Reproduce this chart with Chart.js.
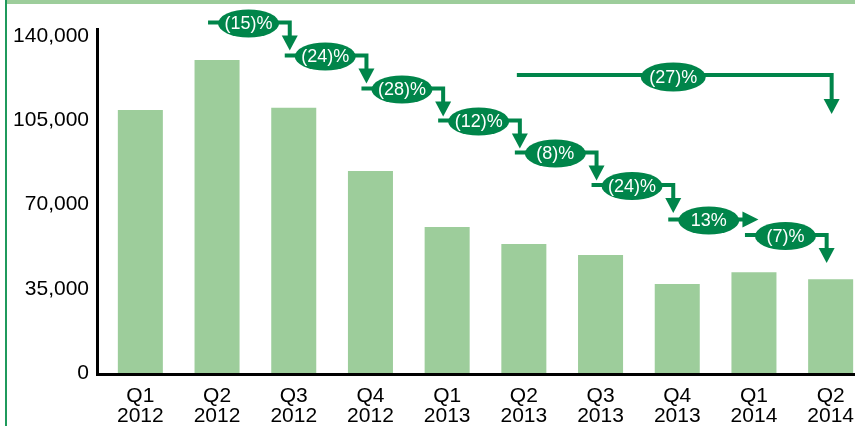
<!DOCTYPE html>
<html><head><meta charset="utf-8">
<script src="https://cdn.jsdelivr.net/npm/chart.js@4/dist/chart.umd.min.js"></script>
<style>
html,body{margin:0;padding:0;background:#fff;overflow:hidden;width:855px;height:426px;}
#wrap{position:relative;width:855px;height:426px;overflow:hidden;}
#frameTop{position:absolute;left:7px;top:0;width:848px;height:4px;background:#9dcd9b;}
#frameLeft{position:absolute;left:5px;top:0;width:2px;height:426px;background:#1f9a5c;}
canvas{position:absolute;left:0;top:0;}
</style></head><body>
<div id="wrap"><canvas id="c" width="870" height="426"></canvas><div id="frameTop"></div><div id="frameLeft"></div></div>
<script>
// ---- data ----
const quarters = [['Q1','2012'],['Q2','2012'],['Q3','2012'],['Q4','2012'],['Q1','2013'],['Q2','2013'],['Q3','2013'],['Q4','2013'],['Q1','2014'],['Q2','2014']];
const values = [109250, 130000, 110200, 83900, 60650, 53600, 49000, 36970, 41830, 38920];
const yTickValues = [0, 35000, 70000, 105000, 140000];
const stepLabels = ['(15)%','(24)%','(28)%','(12)%','(8)%','(24)%','13%','(7)%'];
const stepFromIndex = [1, 2, 3, 4, 5, 6, 7, 8];
const longLabel = '(27)%';
const longFromIndex = 5;
const longToIndex = 9;

const GREEN = '#00854a';
const BAR = '#9dcd9b';
const FONT = '"Liberation Sans", Arial, Helvetica, sans-serif';

const stepPlugin = {
  id: 'steps',
  afterDatasetsDraw(chart, args, opts) {
    const ctx = chart.ctx, xs = chart.scales.x, ca = chart.chartArea;
    ctx.save();
    // axis lines
    ctx.strokeStyle = '#000'; ctx.lineWidth = 3; ctx.lineCap = 'butt';
    ctx.beginPath();
    ctx.moveTo(ca.left - 4.5, ca.top); ctx.lineTo(ca.left - 4.5, ca.bottom + 3);
    ctx.moveTo(ca.left - 6, ca.bottom + 1.5); ctx.lineTo(chart.width, ca.bottom + 1.5);
    ctx.stroke();

    function drawAnn(sx, y, ex, ey, rx, ry, label, ax, tipY) {
      ctx.strokeStyle = GREEN; ctx.fillStyle = GREEN; ctx.lineWidth = 4; ctx.lineJoin = 'miter';
      ctx.beginPath();
      ctx.moveTo(sx, y);
      if (tipY === null) {
        ctx.lineTo(ax - 14, y);
        ctx.stroke();
        ctx.beginPath();
        ctx.moveTo(ax - 16, y - 8); ctx.lineTo(ax, y); ctx.lineTo(ax - 16, y + 8); ctx.closePath();
        ctx.fill();
      } else {
        ctx.lineTo(ax, y); ctx.lineTo(ax, tipY - 13);
        ctx.stroke();
        ctx.beginPath();
        ctx.moveTo(ax - 8, tipY - 15); ctx.lineTo(ax + 8, tipY - 15); ctx.lineTo(ax, tipY); ctx.closePath();
        ctx.fill();
      }
      ctx.beginPath();
      ctx.ellipse(ex, ey, rx, ry, 0, 0, Math.PI * 2);
      ctx.fill();
      ctx.fillStyle = '#fff';
      ctx.font = '18px ' + FONT;
      ctx.textAlign = 'center'; ctx.textBaseline = 'middle';
      ctx.fillText(label, ex, ey + 1);
    }

    const rows = opts.rows;
    stepLabels.forEach((lab, k) => {
      const i = stepFromIndex[k];
      const ci = xs.getPixelForValue(i), cj = xs.getPixelForValue(i + 1);
      const y = rows[k];
      const horizontal = lab.indexOf('(') < 0;
      drawAnn(ci - 9, y, ci + 31.5, y + 1, 30.5, 14, lab,
        horizontal ? cj + 4.5 : cj - 4, horizontal ? null : y + 28);
    });
    const c5 = xs.getPixelForValue(longFromIndex), c9 = xs.getPixelForValue(longToIndex);
    drawAnn(c5 - 7, opts.longRow, (c5 + c9) / 2 - 4, opts.longRow + 2, 32.5, 14.5, longLabel, c9 + 1, opts.longRow + 39);
    ctx.restore();
  }
};

new Chart(document.getElementById('c'), {
  type: 'bar',
  data: {
    labels: quarters,
    datasets: [{
      data: values,
      backgroundColor: BAR,
      borderWidth: 0,
      barPercentage: 0.587,
      categoryPercentage: 1
    }]
  },
  options: {
    responsive: false,
    animation: false,
    events: [],
    layout: { padding: { top: 28, right: 1, left: 0, bottom: 0 } },
    plugins: {
      legend: { display: false },
      tooltip: { enabled: false },
      steps: { rows: [22.5, 55.5, 88.5, 120.5, 152.5, 185, 219.5, 235], longRow: 75 }
    },
    scales: {
      x: {
        offset: true,
        grid: { display: false, drawTicks: false },
        border: { display: false },
        ticks: { color: '#000', font: { family: FONT, size: 21, lineHeight: 0.95 }, padding: 13, maxRotation: 0, autoSkip: false },
        afterFit(s) { s.height = 53; }
      },
      y: {
        min: 0, max: 143300,
        grid: { display: false, drawTicks: false },
        border: { display: false },
        afterBuildTicks(s) { s.ticks = yTickValues.map(v => ({ value: v })); },
        ticks: { color: '#000', font: { family: FONT, size: 21 }, padding: 13,
          callback: v => v.toLocaleString('en-US') },
        afterFit(s) { s.width = 102; }
      }
    }
  },
  plugins: [stepPlugin]
});
</script>
</body></html>
